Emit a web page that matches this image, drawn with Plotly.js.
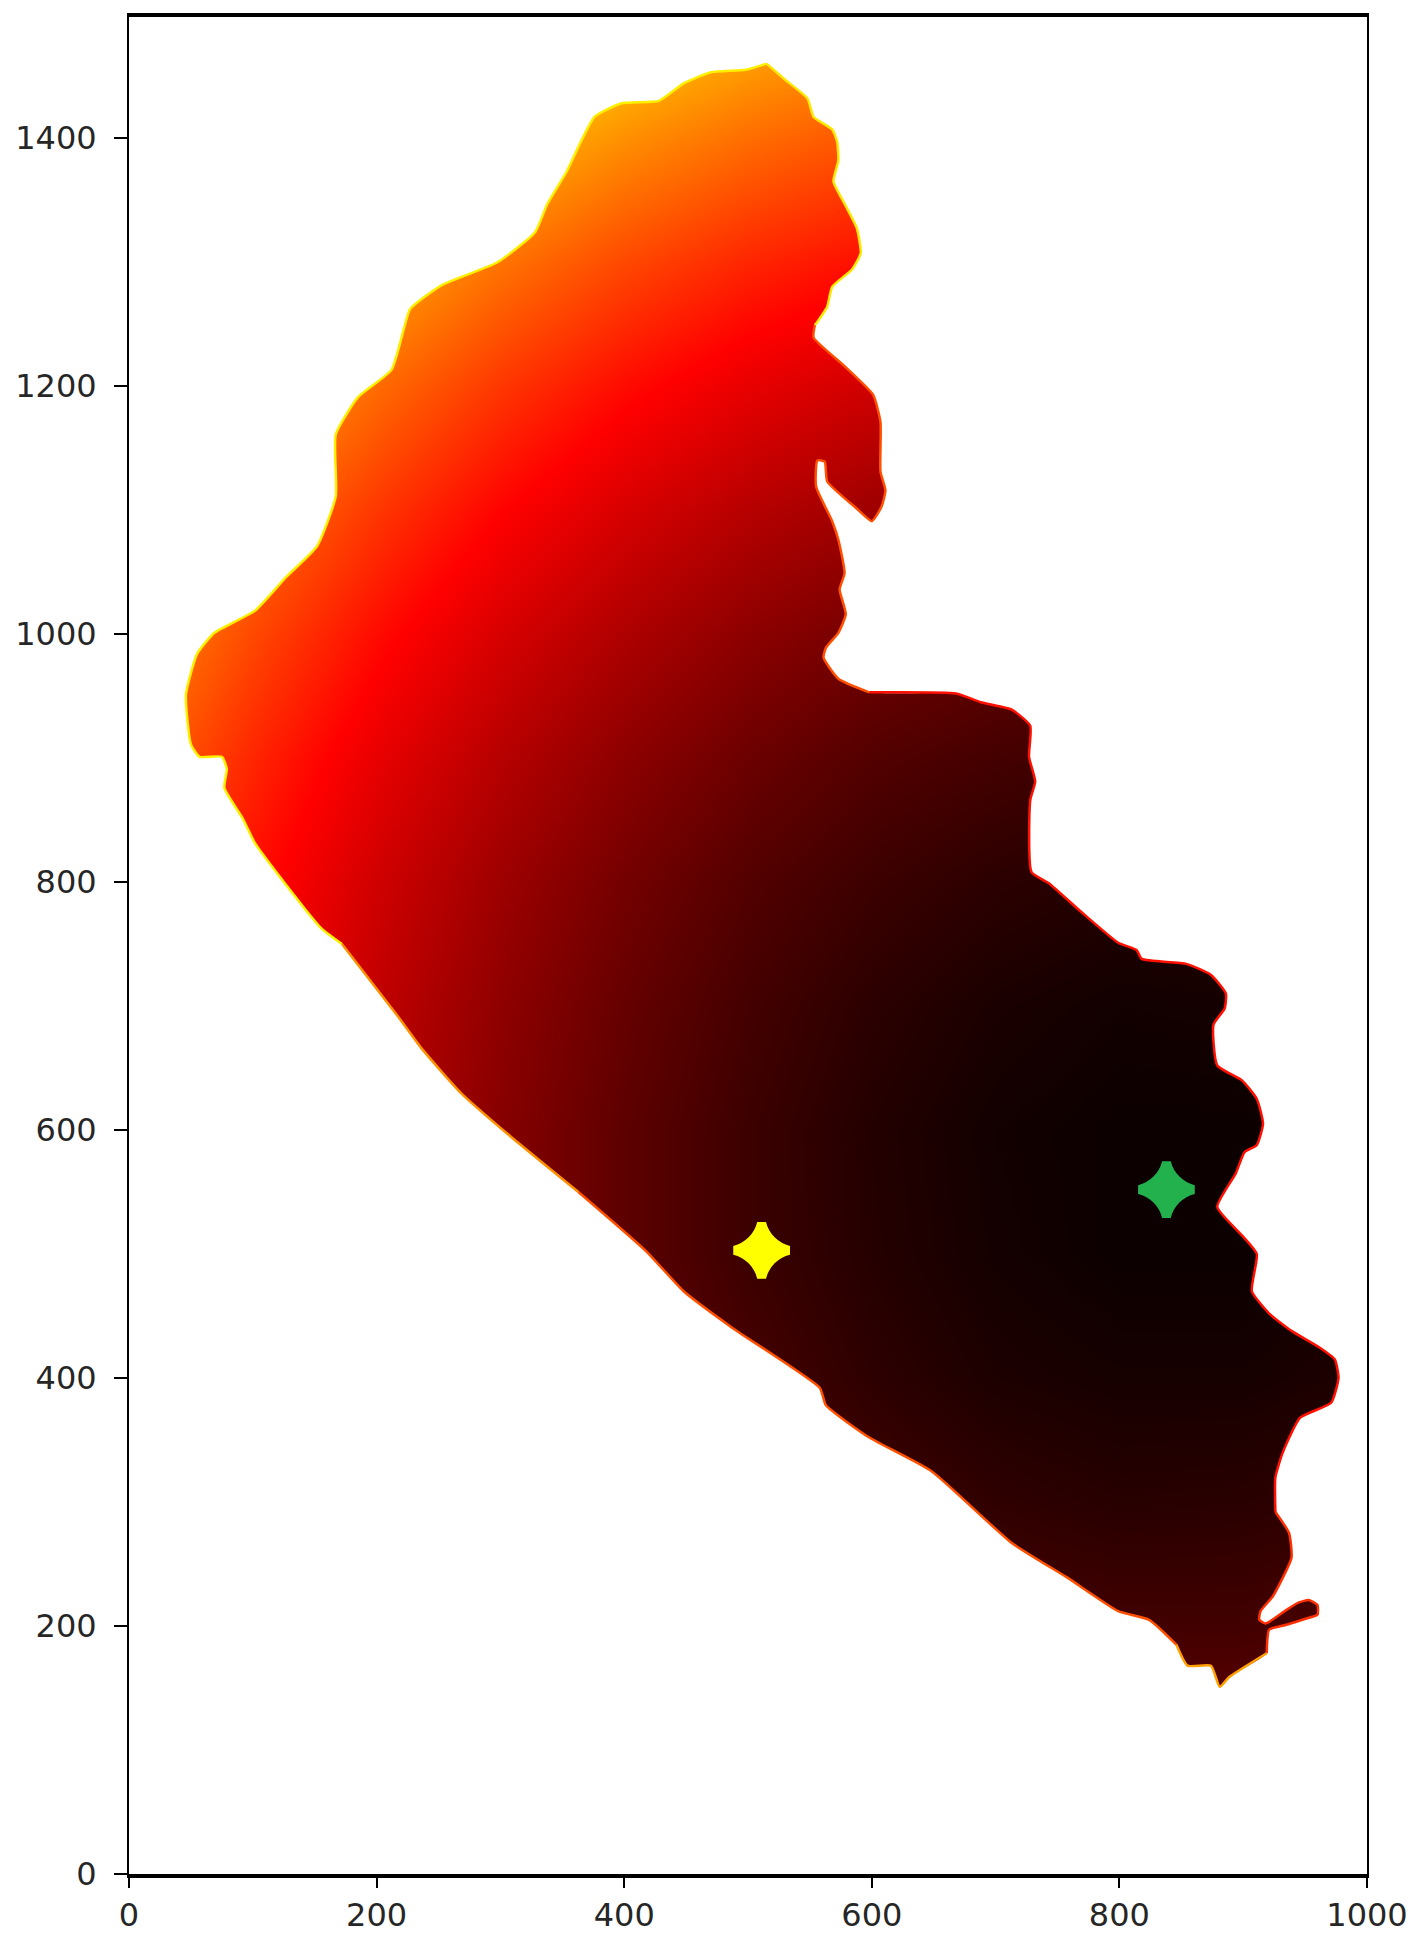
<!DOCTYPE html>
<html>
<head>
<meta charset="utf-8">
<script src="https://cdn.plot.ly/plotly-3.0.1.min.js"></script>
<style>html,body{margin:0;padding:0;background:#fff}</style>
</head>
<body>
<div id="graph" style="width:1419px;height:1946px"></div>
<script>
// shape outline, clockwise from the top
var outlineX = [515,530,548,553,568,572,573,569,578,588,591,584,568,564,554,553,578,601,607,607,611,608,600,588,564,562,556,555,568,573,578,574,579,573,563,561,573,598,668,688,713,728,727,732,728,729,743,769,799,814,818,854,874,886,885,876,879,899,911,916,911,901,894,879,899,911,907,921,939,961,974,977,971,946,932,926,926,937,939,924,914,913,918,925,935,945,953,960,960,951,935,921,919,889,881,874,855,846,824,799,758,713,648,598,563,558,488,448,418,363,308,268,237,217,172,155,102,92,77,79,75,57,50,46,55,69,102,127,152,167,167,185,212,222,227,252,298,328,338,353,376,398,428,448,470,498,515];
var outlineY = [1460,1447,1432,1417,1407,1397,1382,1365,1347,1327,1307,1294,1280,1264,1249,1239,1216,1193,1171,1131,1116,1103,1091,1101,1123,1139,1140,1119,1091,1076,1049,1036,1016,1001,989,981,964,953,952,945,939,926,901,881,866,808,799,776,751,745,738,734,725,710,698,685,652,640,625,605,588,582,565,538,515,500,470,452,438,425,415,400,380,368,340,320,292,275,255,224,212,205,202,206,213,219,221,217,209,206,201,197,178,159,151,168,168,185,205,212,239,267,325,352,378,392,440,470,502,550,595,630,665,692,750,763,831,851,876,891,901,901,911,951,984,1001,1019,1046,1071,1111,1161,1191,1213,1246,1262,1281,1300,1324,1347,1372,1417,1428,1430,1444,1453,1455,1460];

// colour level, 0 black, 1.18 red, 2.35 yellow
var gridX = [0,100,200,300,400,500,600,700,800,900,1000];
var gridY = [0,100,200,300,400,500,600,700,800,900,1000,1100,1200,1300,1400,1500];
var level = [
  [2.08,1.76,1.48,1.24,1.04,.88,.76,.68,.64,.65,.69],
  [1.87,1.55,1.27,1.03,.83,.67,.55,.47,.44,.44,.48],
  [1.70,1.38,1.10,.86,.66,.50,.38,.30,.27,.27,.32],
  [1.58,1.26,.97,.73,.53,.37,.26,.18,.14,.15,.19],
  [1.49,1.17,.89,.65,.45,.29,.17,.09,.06,.06,.10],
  [1.45,1.13,.84,.60,.40,.24,.13,.05,.01,.01,.06],
  [1.44,1.12,.84,.60,.40,.24,.12,.04,.01,.01,.06],
  [1.48,1.16,.88,.64,.44,.28,.16,.08,.04,.05,.09],
  [1.56,1.24,.95,.71,.51,.35,.24,.16,.12,.13,.17],
  [1.68,1.35,1.07,.83,.63,.47,.35,.28,.24,.24,.29],
  [1.84,1.51,1.23,.99,.79,.63,.51,.44,.40,.40,.45],
  [2.04,1.71,1.43,1.19,.99,.83,.71,.64,.60,.60,.65],
  [2.28,1.95,1.67,1.43,1.23,1.07,.95,.88,.84,.84,.89],
  [2.56,2.24,1.95,1.71,1.51,1.35,1.24,1.16,1.12,1.13,1.17],
  [2.88,2.56,2.28,2.04,1.84,1.68,1.56,1.48,1.44,1.45,1.49],
  [3.24,2.92,2.64,2.40,2.20,2.04,1.92,1.84,1.81,1.81,1.86]
];

var starX = [838,511];
var starY = [552,503];
var starColors = ['#22b14c','#ffff00'];

// edge colour changes along the outline
var edgeBreaks = [0,14,37,76,92,97,109,114,146];
var edgeColors = ['#ffe800','#ff5000','#ff1000','#ff3000','#ffa000','#ff5000','#ff9000','#fff000'];

var tickVals = [0,200,400,600,800,1000];
var yTickVals = [0,200,400,600,800,1000,1200,1400];

var heat = {
  type: 'heatmap',
  x: gridX,
  y: gridY,
  z: level,
  zmin: 0,
  zmax: 2.35,
  zsmooth: 'best',
  showscale: false,
  hoverinfo: 'skip',
  colorscale: [[0,'#0a0000'],[0.502,'#ff0000'],[1,'#ffff00']]
};

// white mask, everything outside the outline
var maskX = [-300,-300,1300,1300,-300].concat(outlineX).concat([-300]);
var maskY = [1800,-300,-300,1800,1800].concat(outlineY).concat([1800]);
var mask = {
  type: 'scatter',
  x: maskX,
  y: maskY,
  mode: 'lines',
  fill: 'toself',
  fillcolor: '#ffffff',
  line: {width: 0, simplify: false, shape: 'spline', smoothing: 0.5},
  hoverinfo: 'skip',
  showlegend: false
};

var data = [heat, mask];

for (var i = 0; i < edgeColors.length; i++) {
  data.push({
    type: 'scatter',
    x: outlineX.slice(edgeBreaks[i], edgeBreaks[i+1]+1),
    y: outlineY.slice(edgeBreaks[i], edgeBreaks[i+1]+1),
    mode: 'lines',
    line: {color: edgeColors[i], width: 2.5, simplify: false, shape: 'spline', smoothing: 0.5},
    hoverinfo: 'skip',
    showlegend: false
  });
}

// thick stroke makes the four point star blunt like the picture
data.push({
  type: 'scatter',
  x: starX,
  y: starY,
  mode: 'markers',
  marker: {symbol: 'star-diamond', size: 39, color: starColors, line: {width: 9, color: starColors}},
  hoverinfo: 'skip',
  showlegend: false
});

var layout = {
  width: 1419,
  height: 1946,
  margin: {l: 129, r: 52, t: 17, b: 72},
  paper_bgcolor: '#ffffff',
  plot_bgcolor: '#ffffff',
  showlegend: false,
  font: {family: 'DejaVu Sans', size: 32, color: '#262626'},
  xaxis: {
    range: [0,1000],
    tickmode: 'array',
    tickvals: tickVals,
    ticks: 'outside',
    ticklen: 10,
    tickwidth: 2,
    tickcolor: '#000',
    showgrid: false,
    zeroline: false,
    showline: true,
    linecolor: '#000',
    linewidth: 4,
    mirror: true
  },
  yaxis: {
    range: [0,1497.6],
    tickmode: 'array',
    tickvals: yTickVals,
    ticks: 'outside',
    ticklen: 13,
    tickwidth: 2,
    ticklabelstandoff: 11,
    tickcolor: '#000',
    showgrid: false,
    zeroline: false,
    showline: true,
    linecolor: '#000',
    linewidth: 2,
    mirror: true
  }
};

Plotly.newPlot('graph', data, layout, {displayModeBar: false, staticPlot: true});
</script>
</body>
</html>
